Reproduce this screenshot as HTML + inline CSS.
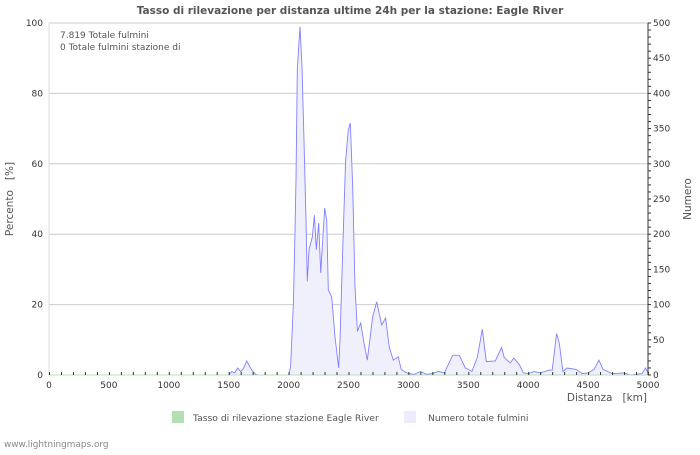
<!DOCTYPE html>
<html><head><meta charset="utf-8">
<style>
body{margin:0;background:#fff;}
svg text{font-family:"DejaVu Sans","Liberation Sans",sans-serif;white-space:pre;}
</style></head>
<body>
<svg id="chart" width="700" height="450" xmlns="http://www.w3.org/2000/svg">
<rect x="0" y="0" width="700" height="450" fill="#fff"/>
<text x="350" y="14" text-anchor="middle" font-size="10.5" font-weight="bold" fill="#555">Tasso di rilevazione per distanza ultime 24h per la stazione: Eagle River</text>
<g id="grid"></g>
<g id="series"></g>
<g id="axes"></g>
<text x="60" y="38" font-size="9" fill="#555">7.819 Totale fulmini</text>
<text x="60" y="50" font-size="9" fill="#555">0 Totale fulmini stazione di</text>
<text x="13" y="199" font-size="10.5" fill="#555" text-anchor="middle" transform="rotate(-90 13 199)">Percento   [%]</text>
<text x="691" y="199" font-size="10.5" fill="#555" text-anchor="middle" transform="rotate(-90 691 199)">Numero</text>
<text x="647" y="401" font-size="10.5" fill="#555" text-anchor="end">Distanza   [km]</text>
<rect x="172" y="411" width="12" height="12" fill="#b3e0b3"/>
<text x="193" y="421" font-size="9.2" fill="#555">Tasso di rilevazione stazione Eagle River</text>
<rect x="404" y="411" width="12" height="12" fill="#ececfc"/>
<text x="428" y="421" font-size="9.2" fill="#555">Numero totale fulmini</text>
<text x="4" y="447" font-size="8.9" fill="#888">www.lightningmaps.org</text>
</svg>
<script>
const kms = [0,1500,1525,1550,1575,1600,1625,1650,1675,1700,1725,1750,2000,2017,2040,2053,2062,2073,2095,2112,2128,2145,2156,2170,2198,2215,2231,2251,2268,2301,2318,2331,2360,2387,2418,2430,2451,2476,2498,2515,2535,2554,2574,2602,2624,2657,2685,2702,2735,2777,2810,2840,2874,2915,2940,2975,3000,3050,3100,3150,3200,3250,3300,3370,3425,3475,3500,3530,3575,3617,3650,3725,3778,3800,3850,3880,3925,3960,4000,4050,4100,4175,4200,4237,4260,4290,4325,4400,4450,4500,4550,4590,4625,4700,4800,4850,4950,4980,5000];
const counts = [0,0,5,3,10,5,10,20,12,5,1,0,0,12,102,196,277,433,495,438,338,220,133,178,196,227,178,216,145,237,220,121,111,54,10,54,173,305,348,358,267,125,62,74,50,21,60,83,104,71,81,40,21,26,8,4,2,1,5,1,2,5,3,28,28,10,8,5,25,65,19,20,39,25,17,24,15,3,2,5,3,7,7,59,45,5,10,8,2,3,8,21,8,2,3,0,2,10,3];
const rateKms = [0,5000];
const rateValues = [0,0];
const pctTicks = [0,20,40,60,80,100];
const numTicks = [0,50,100,150,200,250,300,350,400,450,500];
const kmTicks = [0,500,1000,1500,2000,2500,3000,3500,4000,4500,5000];

const L=49,R=648,T=23,B=375;
const xS=k=>L+(k/5000)*(R-L);
const yP=p=>B-(p/100)*(B-T);
const yN=n=>B-(n/500)*(B-T);
const NS="http://www.w3.org/2000/svg";
function mk(tag,attrs,parent){const e=document.createElementNS(NS,tag);for(const k in attrs)e.setAttribute(k,attrs[k]);document.getElementById(parent).appendChild(e);return e;}

pctTicks.forEach(p=>{
  const g=mk('line',{x1:L,x2:R,y1:yP(p),y2:yP(p),stroke:p===0?'#999':'#ccc','stroke-width':1},'grid');
  
  
  const t=mk('text',{x:L-6,y:yP(p)+3,'text-anchor':'end','font-size':9,fill:'#333'},'axes');
  t.textContent=p;
  
  
});
const lb=mk('line',{x1:L,x2:L,y1:T,y2:B,stroke:'#ddd'},'grid');


const rb=mk('line',{x1:R,x2:R,y1:T,y2:B,stroke:'#333'},'axes');


numTicks.forEach(n=>{
  const t=mk('text',{x:R+5,y:yN(n)+3,'font-size':9,fill:'#333'},'axes');
  t.textContent=n;
  
  
});
for(let n=0;n<=500;n+=10){
  const m=mk('line',{x1:R,x2:R+3,y1:yN(n),y2:yN(n),stroke:'#333'},'axes');
  
  
}
for(let k=0;k<=5000;k+=100){
  const m=mk('line',{x1:xS(k)+0.5,x2:xS(k)+0.5,y1:B-3,y2:B,stroke:'#333'},'axes');
  
  
}
kmTicks.forEach(k=>{
  const t=mk('text',{x:xS(k),y:B+13,'text-anchor':'middle','font-size':9,fill:'#333'},'axes');
  t.textContent=k;
  
  
});
let d='M'+xS(kms[0])+','+B;
kms.forEach((k,i)=>{d+=' L'+xS(k).toFixed(1)+','+yN(counts[i]).toFixed(1);});
d+=' L'+xS(kms[kms.length-1])+','+B+' Z';
const area=mk('path',{d:d,fill:'#f0f0fc',stroke:'none'},'series');


const line=mk('polyline',{points:kms.map((k,i)=>xS(k).toFixed(1)+','+yN(counts[i]).toFixed(1)).join(' '),fill:'none',stroke:'#8080ff','stroke-width':0.9},'series');


const rl=mk('polyline',{points:rateKms.map((k,i)=>xS(k)+','+yP(rateValues[i])).join(' '),fill:'none',stroke:'#b3e0b3','stroke-width':1},'series');


</script>
</body></html>
